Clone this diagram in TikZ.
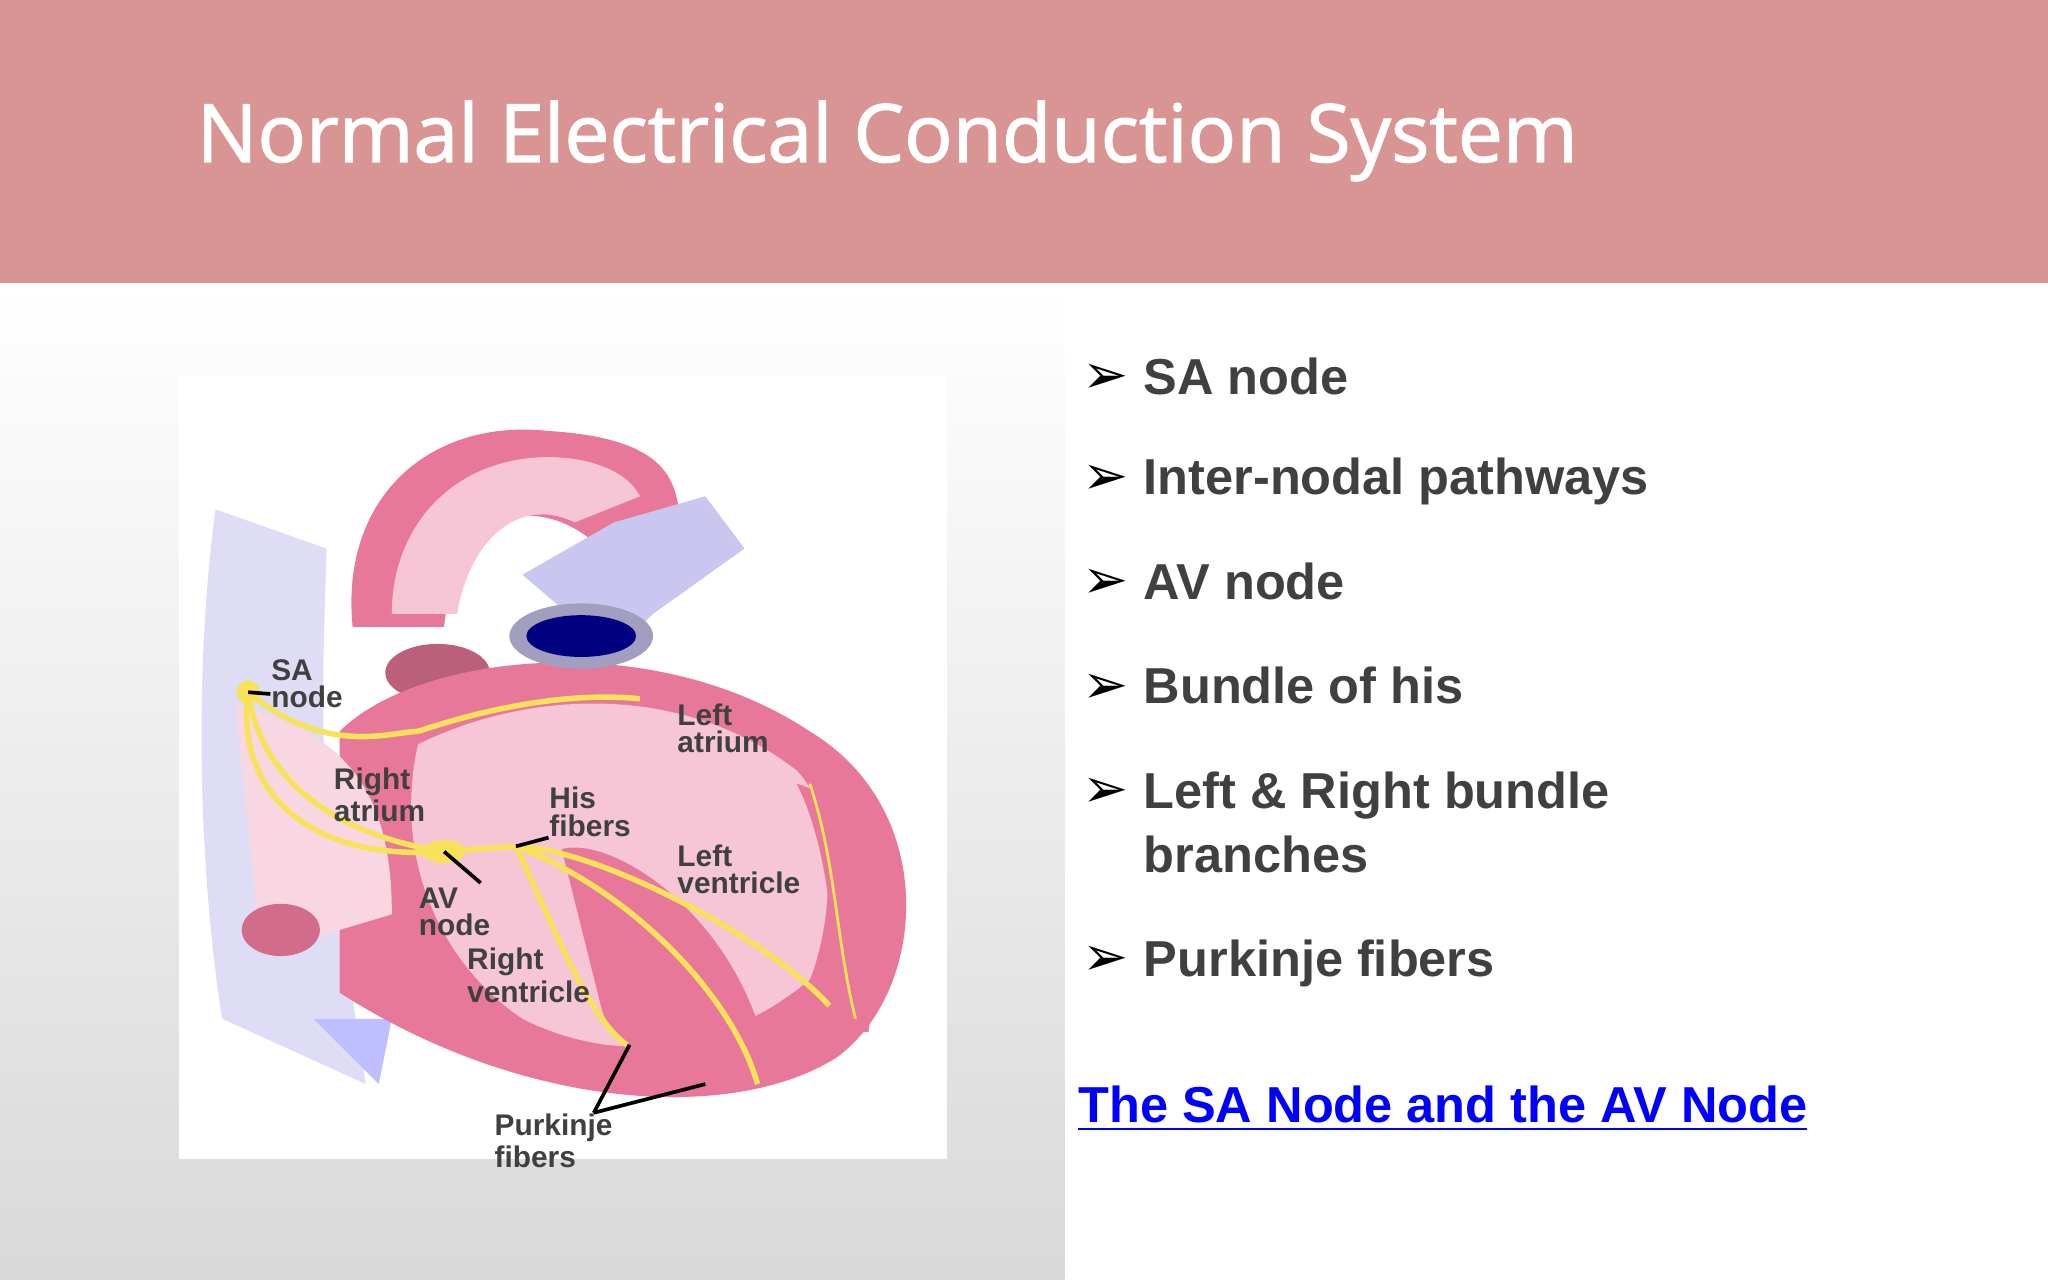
\documentclass[tikz,border=0pt]{standalone}
\usepackage{fontspec}
\setmainfont{Liberation Sans}
\newfontfamily\tfont{Open Sans}[FakeBold=1.5]
\newfontfamily\dfont{DejaVu Sans}
\usetikzlibrary{shapes.geometric}
\definecolor{hdr}{HTML}{D99594}
\definecolor{txt}{HTML}{404040}
\definecolor{pinkA}{HTML}{E8789A}
\definecolor{pinkB}{HTML}{F6C6D6}
\definecolor{lav}{HTML}{C9C6F0}
\definecolor{yel}{HTML}{F7E25A}
\tikzset{lab/.style={font=\fontsize{6.5}{6}\selectfont\bfseries, text=txt, align=left, inner sep=0pt, anchor=north west},
bul/.style={font=\fontsize{11}{14}\selectfont\bfseries, text=txt, anchor=west, align=left, inner sep=0pt},
cond/.style={draw=yel, line width=1.2pt}}
\begin{document}
\begin{tikzpicture}[x=0.01cm,y=-0.01cm]
\useasboundingbox (0,0) rectangle (1568,980);
\fill[hdr] (0,0) rectangle (1568,217);
\node[font=\tfont\fontsize{17.5}{22}\selectfont, text=white, anchor=west, inner sep=0pt] (title) at (150,108) {Normal Electrical Conduction System};
\shade[top color=white, bottom color=black!15] (0,217) rectangle (815,980);
\fill[white] (137,288) rectangle (725,887);
% vena cava
\fill[lav!60] (165,390) .. controls (150,500) and (150,650) .. (170,780) -- (280,830) -- (260,700) .. controls (240,600) and (250,450) .. (250,420) -- cycle;
\fill[blue!25] (240,780) -- (290,830) -- (300,780) -- cycle;
% aorta
\fill[pinkA] (270,480) .. controls (260,380) and (330,320) .. (420,330) .. controls (500,335) and (520,360) .. (520,400) -- (460,420) .. controls (420,380) and (350,380) .. (340,480) -- cycle;
\fill[pinkB] (300,470) .. controls (300,400) and (350,350) .. (420,350) .. controls (450,350) and (480,360) .. (490,380) -- (440,400) .. controls (400,380) and (360,410) .. (350,470) -- cycle;
\fill[pinkA!80!black] (335,515) ellipse (40 and 22);
% heart body
\fill[pinkA] (260,560) .. controls (320,500) and (500,480) .. (620,560) .. controls (720,620) and (710,760) .. (640,810) .. controls (560,860) and (400,850) .. (260,760) -- cycle;
\fill[pinkB] (320,570) .. controls (400,530) and (520,520) .. (610,590) .. controls (640,620) and (640,700) .. (620,750) .. controls (560,800) and (480,820) .. (400,780) .. controls (340,740) and (300,660) .. (320,570) -- cycle;
\fill[pinkA] (430,650) .. controls (470,640) and (560,700) .. (585,800) .. controls (520,830) and (470,810) .. (460,770) -- cycle;
\fill[pinkA] (610,600) .. controls (650,610) and (680,680) .. (665,790) -- (640,790) .. controls (640,700) and (630,640) .. (610,600) -- cycle;
\fill[pinkB!70!white] (180,540) .. controls (260,560) and (300,600) .. (300,700) -- (200,730) -- cycle;
\fill[pinkA!90!black] (215,712) ellipse (30 and 20);
% pulmonary artery
\fill[lav] (400,440) -- (470,400) -- (540,380) -- (570,420) -- (500,470) -- (470,500) -- cycle;
\fill[lav!80!black] (445,487) ellipse (55 and 25);
\fill[blue!50!black] (445,487) ellipse (42 and 16);
% conduction
\coordinate (sa) at (190,530);
\coordinate (av) at (340,652);
\coordinate (his) at (395,648);
\fill[yel] (sa) circle (9);
\fill[yel] (av) ellipse (16 and 9);
\draw[cond] (sa) .. controls (200,600) and (260,640) .. (av);
\draw[cond] (sa) .. controls (180,600) and (230,660) .. (av);
\draw[cond] (sa) .. controls (250,580) and (300,560) .. (320,560);
\draw[cond] (320,560) .. controls (380,540) and (440,530) .. (490,535);
\draw[cond] (av) -- (his);
\draw[cond] (his) .. controls (420,700) and (450,780) .. (480,800);
\draw[cond] (his) .. controls (480,680) and (560,760) .. (580,830);
\draw[cond] (his) .. controls (460,650) and (590,720) .. (635,770);
\draw[cond,line width=0.6pt] (620,600) .. controls (640,660) and (640,720) .. (655,780);
% labels
\node[lab] (lsa) at (207,504) {SA\\node};
\node[lab] (lra) at (255,587) {Right\\atrium};
\node[lab] (lla) at (518,538) {Left\\atrium};
\node[lab] (lhis) at (420,602) {His\\fibers};
\node[lab] (llv) at (518,646) {Left\\ventricle};
\node[lab] (lav) at (320,679) {AV\\node};
\node[lab] (lrv) at (357,725) {Right\\ventricle};
\node[lab] (lpk) at (378,852) {Purkinje\\fibers};
\draw[thick] (lsa.west)++(0,8) -- (sa);
\draw[thick] (lhis.south west) -- (his);
\draw[thick] (lav.north)++(20,-3) -- (av);
\draw[thick] (lpk.north east)++(-15,0) -- (482,800);
\draw[thick] (lpk.north east)++(-15,0) -- (540,830);
% bullets
\foreach \t/\y [count=\i] in {SA node/290, Inter-nodal pathways/367, AV node/447, Bundle of his/527, Left \& Right bundle\\branches/607, Purkinje fibers/736}{
  \node[font=\dfont\fontsize{12}{14}\selectfont, text=black, anchor=west, inner sep=0pt] (b\i) at (828,\y) {➢};
  \node[bul, anchor=north west] (t\i) at (875,\y-17) {\t};
}
\node[font=\fontsize{11}{14}\selectfont\bfseries, text=blue, anchor=west, inner sep=0pt] (link) at (825,849) {\underline{The SA Node and the AV Node}};
\end{tikzpicture}
\end{document}
